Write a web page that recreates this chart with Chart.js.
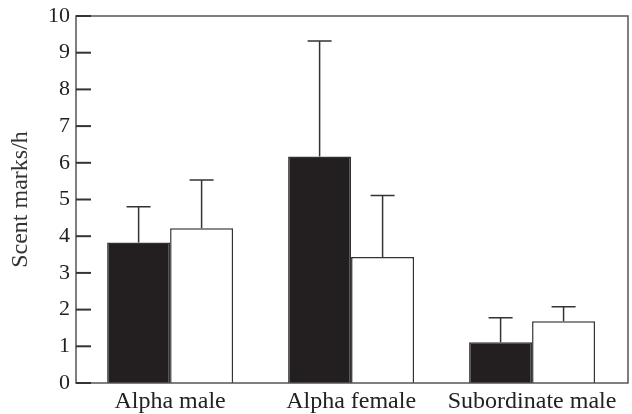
<!DOCTYPE html>
<html>
<head>
<meta charset="utf-8">
<script src="https://cdn.jsdelivr.net/npm/chart.js@4"></script>
<style>
  html, body { margin: 0; background: #fff; }
  #wrap { width: 632px; height: 414px; }
</style>
</head>
<body>
<div id="wrap"><canvas id="chart"></canvas></div>
<script>
const categories = ['Alpha male', 'Alpha female', 'Subordinate male'];
const blackMeans = [3.83, 6.17, 1.11];
const blackErr = [0.97, 3.15, 0.67];
const whiteMeans = [4.22, 3.43, 1.68];
const whiteErr = [1.31, 1.68, 0.40];
const yTicks = [0, 1, 2, 3, 4, 5, 6, 7, 8, 9, 10];

const serif = '"Liberation Serif", "DejaVu Serif", serif';

function points(values) {
  return values.map((v, i) => ({ x: i, y: v }));
}

// error bars (upper only), frame and inward y ticks
const extras = {
  id: 'extras',
  afterDatasetsDraw(chart) {
    const { ctx, chartArea: a, scales: { x, y } } = chart;
    ctx.save();
    ctx.strokeStyle = '#333';
    ctx.lineWidth = 1.5;
    chart.data.datasets.forEach((ds, i) => {
      chart.getDatasetMeta(i).data.forEach((bar, j) => {
        const top = y.getPixelForValue(ds.data[j].y + ds.err[j]);
        ctx.beginPath();
        ctx.moveTo(bar.x, bar.y);
        ctx.lineTo(bar.x, top);
        ctx.moveTo(bar.x - 12, top);
        ctx.lineTo(bar.x + 12, top);
        ctx.stroke();
      });
    });

    ctx.strokeStyle = '#555';
    ctx.lineWidth = 1.5;
    ctx.strokeRect(a.left, a.top, a.right - a.left, a.bottom - a.top);

    ctx.strokeStyle = '#333';
    ctx.lineWidth = 2;
    y.ticks.forEach(t => {
      const py = y.getPixelForValue(t.value);
      ctx.beginPath();
      ctx.moveTo(a.left, py);
      ctx.lineTo(a.left + 15, py);
      ctx.stroke();
    });
    ctx.restore();
  }
};

new Chart(document.getElementById('chart'), {
  type: 'bar',
  data: {
    datasets: [
      {
        data: points(blackMeans),
        err: blackErr,
        backgroundColor: '#231f20',
        borderColor: '#333',
        borderWidth: 1.5
      },
      {
        data: points(whiteMeans),
        err: whiteErr,
        backgroundColor: '#fff',
        borderColor: '#333',
        borderWidth: 1.5
      }
    ]
  },
  options: {
    responsive: true,
    maintainAspectRatio: false,
    animation: false,
    categoryPercentage: 0.696,
    barPercentage: 1,
    layout: { padding: { top: 16, right: 4, left: 0, bottom: 0 } },
    plugins: {
      legend: { display: false },
      tooltip: { enabled: false }
    },
    scales: {
      x: {
        type: 'linear',
        min: -0.52,
        max: 2.53,
        offset: false,
        grid: { display: false, drawTicks: false, offset: false },
        border: { display: false },
        afterBuildTicks: s => { s.ticks = categories.map((c, i) => ({ value: i })); },
        afterFit: s => { s.height = 31; },
        ticks: {
          callback: v => categories[v],
          font: { family: serif, size: 24 },
          color: '#222',
          padding: 4,
          maxRotation: 0
        }
      },
      y: {
        min: 0,
        max: 10,
        grid: { display: false, drawTicks: false },
        border: { display: false },
        afterBuildTicks: s => { s.ticks = yTicks.map(v => ({ value: v })); },
        afterFit: s => { s.width = 76; s.paddingTop = 0; s.paddingBottom = 0; },
        ticks: {
          font: { family: serif, size: 22 },
          color: '#222',
          padding: 6
        },
        title: {
          display: true,
          text: 'Scent marks/h',
          font: { family: serif, size: 24 },
          color: '#333',
          padding: { top: 6, bottom: 0 }
        }
      }
    }
  },
  plugins: [extras]
});
</script>
</body>
</html>
